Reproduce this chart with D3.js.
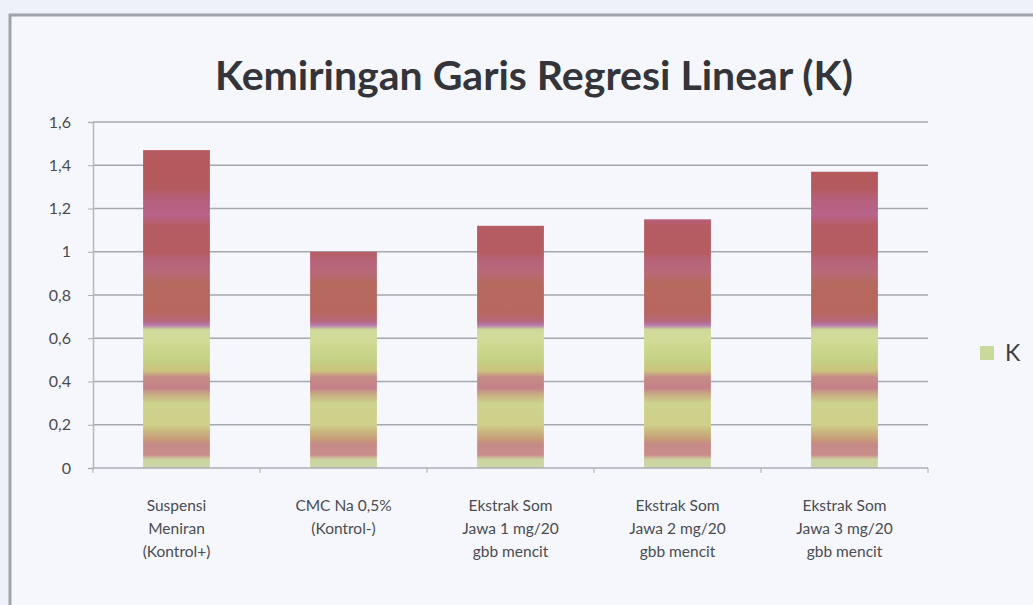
<!DOCTYPE html>
<html>
<head>
<meta charset="utf-8">
<script src="https://cdn.jsdelivr.net/npm/d3@7"></script>
<style>
  body { margin: 0; background: #eef1f8; }
  #chart { width: 1033px; height: 605px; }
</style>
</head>
<body>
<div id="chart"></div>
<script>
// data
var categories = [
    ["Suspensi", "Meniran", "(Kontrol+)"],
    ["CMC Na 0,5%", "(Kontrol-)"],
    ["Ekstrak Som", "Jawa 1 mg/20", "gbb mencit"],
    ["Ekstrak Som", "Jawa 2 mg/20", "gbb mencit"],
    ["Ekstrak Som", "Jawa 3 mg/20", "gbb mencit"]
];
var kValues = [1.47, 1.0, 1.12, 1.15, 1.37];
var yTicks = [0, 0.2, 0.4, 0.6, 0.8, 1, 1.2, 1.4, 1.6];
var seriesName = "K";
var chartTitle = "Kemiringan Garis Regresi Linear (K)";

// banded "texture" fill, offsets are in value units (bottom -> top)
var bandStops = [
    [0.00, "#c9d7a6"], [0.04, "#cdd3a0"], [0.06, "#c98e8c"], [0.11, "#c58a86"],
    [0.13, "#c89a78"], [0.17, "#c9b87e"], [0.20, "#cfd08a"], [0.30, "#cdd28c"],
    [0.34, "#c8ad82"], [0.37, "#c38089"], [0.42, "#c58c86"], [0.45, "#cbc27e"],
    [0.50, "#c4d184"], [0.55, "#cbd68c"], [0.60, "#d2dc98"], [0.64, "#cfd89a"],
    [0.66, "#b97ab0"], [0.68, "#b5687a"], [0.72, "#b8675f"], [0.85, "#b6695e"],
    [0.90, "#b86a76"], [0.95, "#b7647c"], [1.00, "#b45c61"], [1.12, "#b55c62"],
    [1.17, "#b8638a"], [1.24, "#b5607c"], [1.30, "#b35a5c"], [1.40, "#b6595c"],
    [1.45, "#b55a60"], [1.60, "#b45a60"]
];

var margin = {top: 122, left: 93},
    plotW = 835,
    plotH = 346;

var svg = d3.select("#chart").append("svg")
    .attr("width", 1033)
    .attr("height", 605)
    .style("font-family", "Lato, 'Open Sans', sans-serif");

// chart area frame
svg.append("rect")
    .attr("x", 10).attr("y", 15)
    .attr("width", 1040).attr("height", 620)
    .attr("fill", "#f5f7fc")
    .attr("stroke", "#9fa3ab")
    .attr("stroke-width", 3);

svg.append("text")
    .attr("x", 534).attr("y", 90)
    .attr("text-anchor", "middle")
    .attr("font-size", 41)
    .attr("font-weight", "bold")
    .attr("fill", "#33353a")
    .text(chartTitle);

var g = svg.append("g")
    .attr("transform", "translate(" + margin.left + "," + margin.top + ")");

var x = d3.scaleBand()
    .domain(d3.range(categories.length))
    .range([0, plotW])
    .paddingInner(0.6)
    .paddingOuter(0.3);
var xEdge = d3.scaleLinear().domain([0, categories.length]).range([0, plotW]);
var y = d3.scaleLinear().domain([0, 1.6]).range([plotH, 0]);

// gradient in user space so every bar shares the same bands
var grad = svg.append("defs").append("linearGradient")
    .attr("id", "kfill")
    .attr("gradientUnits", "userSpaceOnUse")
    .attr("x1", 0).attr("x2", 0)
    .attr("y1", y(0)).attr("y2", y(1.6));
grad.selectAll("stop").data(bandStops).enter().append("stop")
    .attr("offset", function(d) { return d[0] / 1.6; })
    .attr("stop-color", function(d) { return d[1]; });

// gridlines
g.append("g").selectAll("line").data(yTicks.slice(1)).enter().append("line")
    .attr("x1", 0).attr("x2", plotW)
    .attr("y1", function(d) { return y(d); })
    .attr("y2", function(d) { return y(d); })
    .attr("stroke", "#a5a8b0")
    .attr("stroke-width", 1.5);

// y axis
var yAxis = d3.axisLeft(y)
    .tickValues(yTicks)
    .tickSize(5)
    .tickPadding(17)
    .tickFormat(function(d) { return String(d).replace(".", ","); });
var yAxisG = g.append("g").call(yAxis);
yAxisG.select(".domain").attr("stroke", "#b4b7bd").attr("stroke-width", 1.5);
yAxisG.selectAll(".tick line").attr("stroke", "#a9acb3");
yAxisG.selectAll("text")
    .attr("font-size", 16)
    .attr("font-family", "Lato, 'Open Sans', sans-serif")
    .attr("fill", "#4a4c52");

// bars
g.append("g").selectAll("rect").data(kValues).enter().append("rect")
    .attr("x", function(d, i) { return x(i); })
    .attr("width", x.bandwidth())
    .attr("y", function(d) { return y(d); })
    .attr("height", function(d) { return y(0) - y(d); })
    .attr("fill", "url(#kfill)");

// x axis with ticks at category edges
var xAxisG = g.append("g").attr("transform", "translate(0," + plotH + ")");
xAxisG.append("line")
    .attr("x1", 0).attr("x2", plotW)
    .attr("stroke", "#a9acb3").attr("stroke-width", 1.5);
xAxisG.selectAll("line.edge").data(d3.range(categories.length + 1)).enter().append("line")
    .attr("class", "edge")
    .attr("x1", function(d) { return xEdge(d); })
    .attr("x2", function(d) { return xEdge(d); })
    .attr("y1", 0).attr("y2", 5)
    .attr("stroke", "#a9acb3");

var labels = xAxisG.selectAll("text.cat").data(categories).enter().append("text")
    .attr("class", "cat")
    .attr("text-anchor", "middle")
    .attr("font-size", 15.5)
    .attr("fill", "#4a4c52")
    .attr("transform", function(d, i) {
        return "translate(" + (x(i) + x.bandwidth() / 2) + ",43)";
    });
labels.selectAll("tspan").data(function(d) { return d; }).enter().append("tspan")
    .attr("x", 0)
    .attr("dy", function(d, i) { return i === 0 ? 0 : 23; })
    .text(function(d) { return d; });

// legend
var legend = svg.append("g").attr("transform", "translate(980,346)");
legend.append("rect")
    .attr("width", 14).attr("height", 14)
    .attr("fill", "#c9d99c");
legend.append("text")
    .attr("x", 25).attr("y", 15)
    .attr("font-size", 23)
    .attr("fill", "#3c3e44")
    .text(seriesName);
</script>
</body>
</html>
